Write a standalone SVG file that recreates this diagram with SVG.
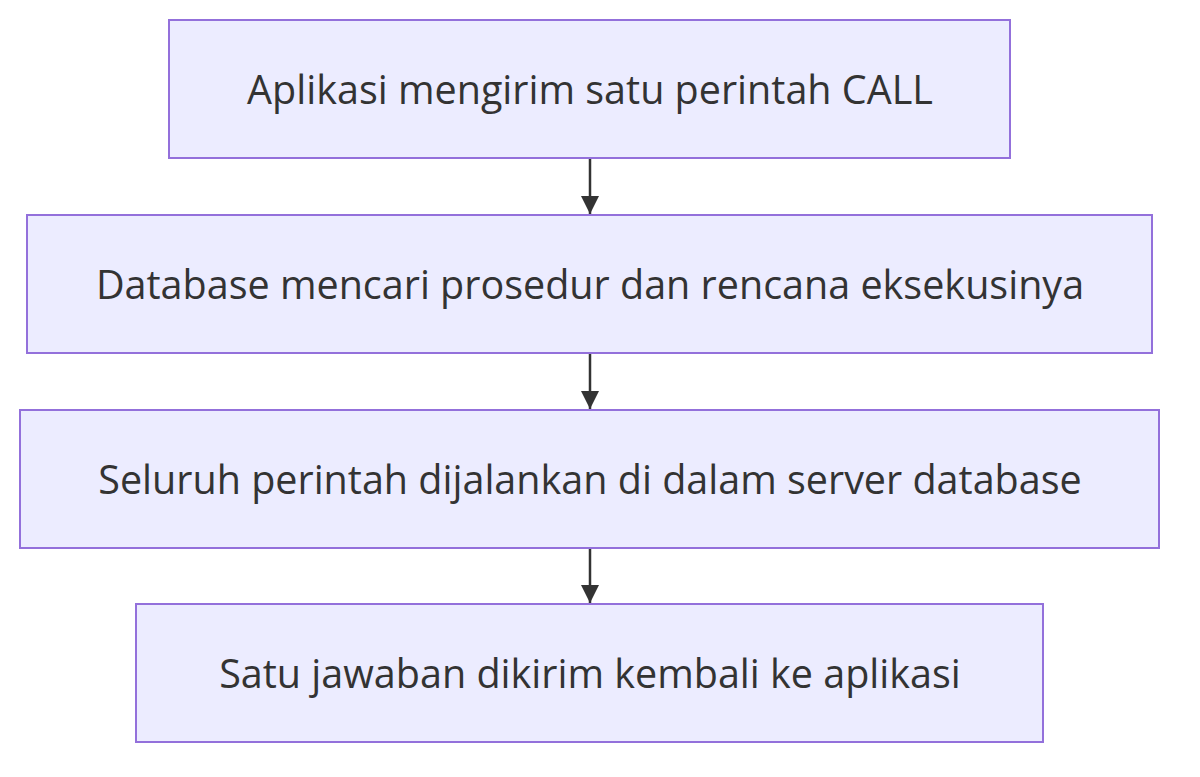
<svg xmlns="http://www.w3.org/2000/svg" width="1200" height="777" viewBox="0 0 1200 777">
<style>
.n rect{fill:#ECECFF;stroke:#9370DB;stroke-width:2}
.n text{font-family:"Open Sans","DejaVu Sans",sans-serif;font-size:39.5px;fill:#333;text-anchor:middle;dominant-baseline:central}
.e line{stroke:#333;stroke-width:2.5;marker-end:url(#a)}
</style>
<defs><marker id="a" viewBox="0 0 10 10" refX="10" refY="5" markerWidth="18" markerHeight="18" markerUnits="userSpaceOnUse" orient="auto"><path d="M0,0L10,5L0,10z" fill="#333"/></marker></defs>
<rect width="1200" height="777" fill="#fff"/>
<g class="e">
<line x1="590" y1="159" x2="590" y2="214"/>
<line x1="590" y1="354" x2="590" y2="409"/>
<line x1="590" y1="549" x2="590" y2="603"/>
</g>
<g id="n1" class="n"><rect x="169" y="20" width="841" height="138"/><text x="590" y="89">Aplikasi mengirim satu perintah CALL</text></g>
<g id="n2" class="n"><rect x="27" y="215" width="1125" height="138"/><text x="590" y="284">Database mencari prosedur dan rencana eksekusinya</text></g>
<g id="n3" class="n"><rect x="20" y="410" width="1139" height="138"/><text x="590" y="479">Seluruh perintah dijalankan di dalam server database</text></g>
<g id="n4" class="n"><rect x="136" y="604" width="907" height="138"/><text x="590" y="673">Satu jawaban dikirim kembali ke aplikasi</text></g>
</svg>
